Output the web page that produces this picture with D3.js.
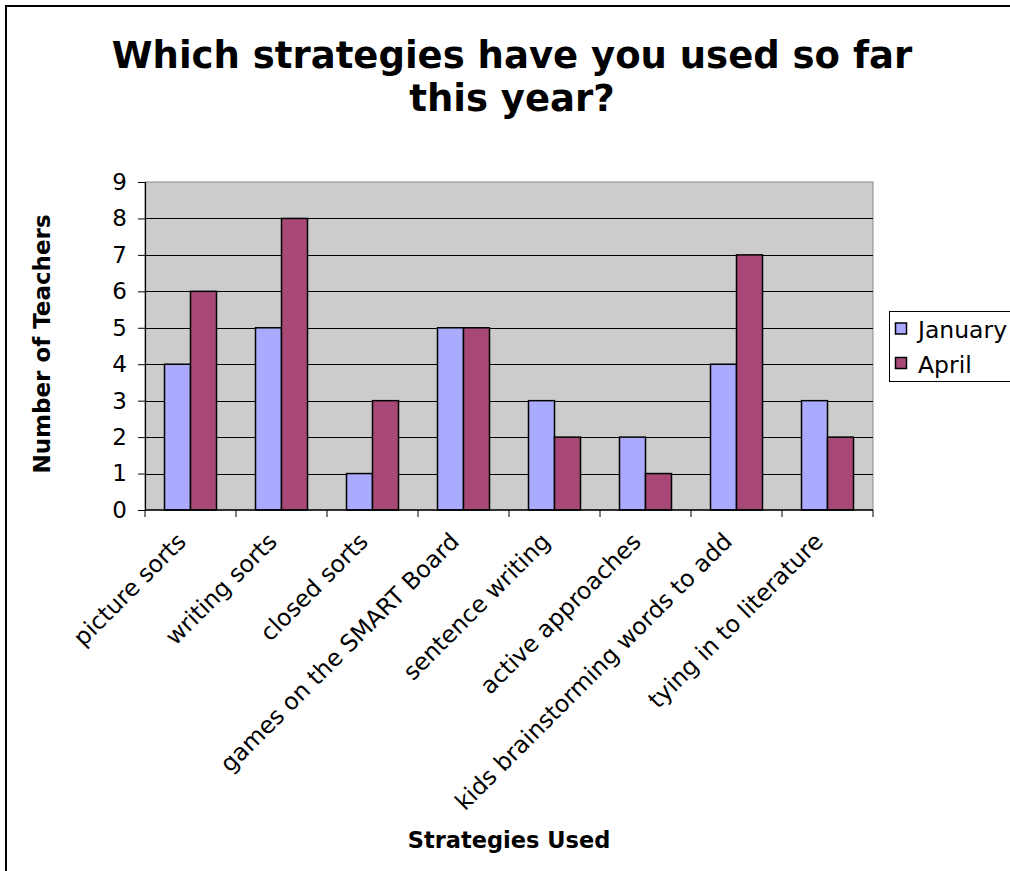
<!DOCTYPE html>
<html>
<head>
<meta charset="utf-8">
<script src="https://cdn.jsdelivr.net/npm/d3@7"></script>
<style>
  html, body { margin: 0; padding: 0; background: #fff; }
  svg { display: block; font-family: "DejaVu Sans", Verdana, sans-serif; }
</style>
</head>
<body>
<svg id="chart" width="1010" height="871"></svg>
<script>
// Survey answers: number of teachers using each strategy
const categories = [
  "picture sorts", "writing sorts", "closed sorts", "games on the SMART Board",
  "sentence writing", "active approaches", "kids brainstorming words to add",
  "tying in to literature"
];
const seriesNames = ["January", "April"];
const january = [4, 5, 1, 5, 3, 2, 4, 3];
const april = [6, 8, 3, 5, 2, 1, 7, 2];
const yTicks = [0, 1, 2, 3, 4, 5, 6, 7, 8, 9];
const seriesColors = ["#AAAAFF", "#A84877"];

const series = [january, april];
const svg = d3.select("#chart");

// outer frame
svg.append("rect")
  .attr("x", 6).attr("y", 6).attr("width", 1020).attr("height", 880)
  .attr("fill", "none").attr("stroke", "#000").attr("stroke-width", 2);

const plot = { left: 145, top: 182, right: 873, bottom: 510 };

const x = d3.scaleBand()
  .domain(categories)
  .range([plot.left, plot.right])
  .paddingInner(0).paddingOuter(0);

const xInner = d3.scaleBand()
  .domain(seriesNames)
  .range([0, x.bandwidth()])
  .paddingInner(0)
  .paddingOuter(0.75);

const y = d3.scaleLinear().domain([0, 9]).range([plot.bottom, plot.top]);

// plot background
svg.append("rect")
  .attr("x", plot.left).attr("y", plot.top)
  .attr("width", plot.right - plot.left).attr("height", plot.bottom - plot.top)
  .attr("fill", "#CCCCCC").attr("stroke", "#8c8c8c").attr("stroke-width", 1);

// horizontal gridlines
svg.append("g")
  .selectAll("line")
  .data(yTicks.filter(d => d > 0 && d < 9))
  .join("line")
  .attr("x1", plot.left).attr("x2", plot.right)
  .attr("y1", d => Math.round(y(d)) + 0.5).attr("y2", d => Math.round(y(d)) + 0.5)
  .attr("stroke", "#000").attr("stroke-width", 1);

// bars
const groups = svg.append("g")
  .selectAll("g")
  .data(categories)
  .join("g")
  .attr("transform", d => `translate(${x(d)},0)`);

groups.selectAll("rect")
  .data((d, i) => seriesNames.map((s, j) => ({ s, v: series[j][i], c: seriesColors[j] })))
  .join("rect")
  .attr("x", d => xInner(d.s))
  .attr("y", d => y(d.v))
  .attr("width", xInner.bandwidth())
  .attr("height", d => y(0) - y(d.v))
  .attr("fill", d => d.c)
  .attr("stroke", "#000").attr("stroke-width", 1.5);

// y axis
const yAxis = d3.axisLeft(y).tickValues(yTicks).tickSize(7).tickPadding(11);
const yg = svg.append("g").attr("transform", `translate(${plot.left},0)`).call(yAxis);
yg.select(".domain").attr("stroke", "#000").attr("stroke-width", 1.2);
yg.selectAll(".tick line").attr("stroke", "#000");
yg.selectAll(".tick text")
  .attr("font-size", 23).attr("fill", "#000")
  .attr("font-family", "DejaVu Sans, Verdana, sans-serif");

// x axis: ticks at category boundaries
const xg = svg.append("g").attr("transform", `translate(0,${plot.bottom})`);
xg.append("line")
  .attr("x1", plot.left).attr("x2", plot.right)
  .attr("y1", 0).attr("y2", 0)
  .attr("stroke", "#000").attr("stroke-width", 1.5);
xg.selectAll("line.tk")
  .data(d3.range(categories.length + 1))
  .join("line")
  .attr("class", "tk")
  .attr("x1", i => plot.left + i * x.step()).attr("x2", i => plot.left + i * x.step())
  .attr("y1", 0).attr("y2", 7)
  .attr("stroke", "#000");
xg.selectAll("text")
  .data(categories)
  .join("text")
  .attr("transform", d => `translate(${x(d) + x.bandwidth() / 2 - 3},${33}) rotate(-45)`)
  .attr("text-anchor", "end")
  .attr("font-size", 23.5)
  .attr("fill", "#000")
  .text(d => d);

// title
const title = svg.append("text")
  .attr("text-anchor", "middle")
  .attr("font-size", 37).attr("font-weight", "bold").attr("fill", "#000");
title.append("tspan").attr("x", 512).attr("y", 68).text("Which strategies have you used so far");
title.append("tspan").attr("x", 512).attr("y", 111).text("this year?");

// axis titles
svg.append("text")
  .attr("transform", `translate(50,${344}) rotate(-90)`)
  .attr("text-anchor", "middle")
  .attr("font-size", 23).attr("font-weight", "bold")
  .text("Number of Teachers");

svg.append("text")
  .attr("x", 509).attr("y", 848)
  .attr("text-anchor", "middle")
  .attr("font-size", 22.5).attr("font-weight", "bold")
  .text("Strategies Used");

// legend
const legend = svg.append("g");
legend.append("rect")
  .attr("x", 889.5).attr("y", 311.5).attr("width", 140).attr("height", 70)
  .attr("fill", "#fff").attr("stroke", "#000").attr("stroke-width", 1);
const li = legend.selectAll("g.item")
  .data(seriesNames)
  .join("g")
  .attr("class", "item")
  .attr("transform", (d, i) => `translate(895.5,${323 + i * 34.5})`);
li.append("rect")
  .attr("width", 11).attr("height", 11)
  .attr("fill", (d, i) => seriesColors[i])
  .attr("stroke", "#000").attr("stroke-width", 1.5);
li.append("text")
  .attr("x", 22.5).attr("y", 15)
  .attr("font-size", 23.5).attr("fill", "#000")
  .text(d => d);
</script>
</body>
</html>
